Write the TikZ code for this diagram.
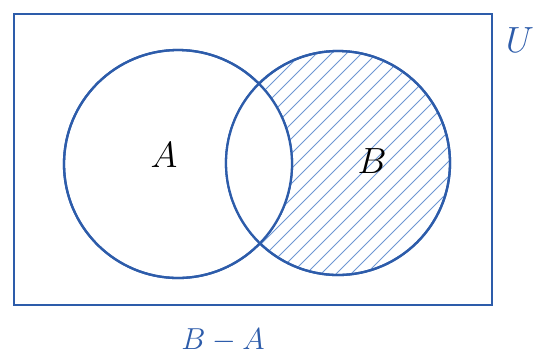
\documentclass[tikz,border=0pt]{standalone}
\usepackage{tikz}
\usetikzlibrary{positioning}
\definecolor{pen}{RGB}{45,92,170}
\definecolor{hatch}{RGB}{110,150,210}

\begin{document}
\begin{tikzpicture}[x=0.02cm,y=-0.02cm,
  every node/.style={font=\fontsize{20}{24}\selectfont,pen},
  setc/.style={draw=pen,line width=1.3pt,circle,inner sep=0pt},
  hline/.style={draw=hatch,line width=0.5pt}
]
\useasboundingbox (0,0) rectangle (536,359);
\def\ra{228}
\def\rb{224}
\node[draw=pen,line width=1.3pt,minimum width=478*0.02cm,minimum height=291*0.02cm] (univ) at (253,159.5) {};
\node[setc,minimum size=\ra*0.02cm] (A) at (178,164) {};
\node[setc,minimum size=\rb*0.02cm] (B) at (338,163) {};
% hatching of B - A
\begin{scope}
  \clip (338,163) circle (112);
  \foreach \c in {280,295,...,640}
    \draw[hline] (\c-40,40) -- (\c-290,290);
  \fill[white] (178,164) circle (114);
\end{scope}
\node[setc,minimum size=\ra*0.02cm] at (A) {};
\node[setc,minimum size=\rb*0.02cm] at (B) {};

\node[black] (la) at (164,155) {$A$};
\node[black] (lb) at (372,161) {$B$};
\node (lu) at (520,40) {$U$};
\node[below=0.32cm of univ.south,xshift=-0.6cm,font=\fontsize{16}{18}\selectfont] (lba) {$B-A$};
\end{tikzpicture}
\end{document}
